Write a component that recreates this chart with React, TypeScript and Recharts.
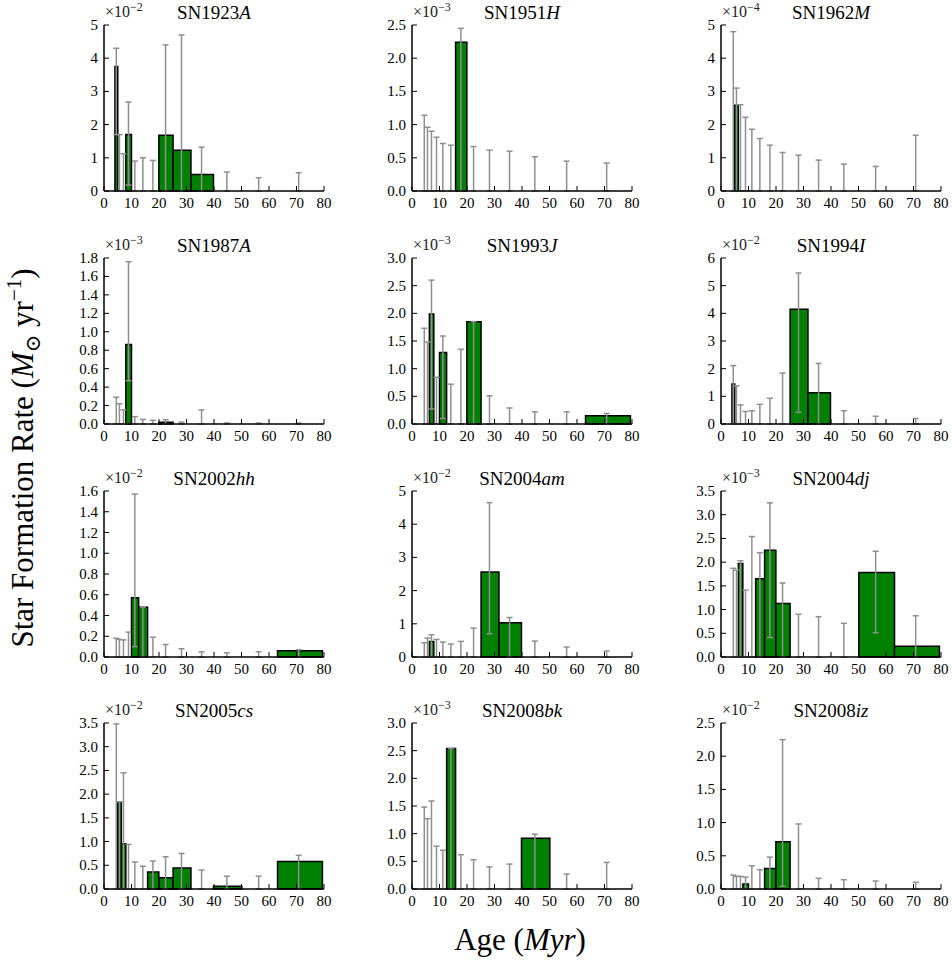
import React from 'react';
import { ComposedChart, XAxis, YAxis, Scatter, ErrorBar, ReferenceArea } from 'recharts';

// age bins (Myr), 0.1 dex wide
const binEdges = [3.98, 5.01, 6.31, 7.94, 10.0, 12.59, 15.85, 19.95, 25.12, 31.62, 39.81, 50.12, 63.1, 79.43];
const binCenters = [4.47, 5.62, 7.08, 8.91, 11.22, 14.13, 17.78, 22.39, 28.18, 35.48, 44.67, 56.23, 70.79];
const ageTicks = [0, 10, 20, 30, 40, 50, 60, 70, 80];

const snNames = ['SN1923', 'SN1951', 'SN1962', 'SN1987', 'SN1993', 'SN1994', 'SN2002', 'SN2004', 'SN2004', 'SN2005', 'SN2008', 'SN2008'];
const snSuffix = ['A', 'H', 'M', 'A', 'J', 'I', 'hh', 'am', 'dj', 'cs', 'bk', 'iz'];
const exponents = ['2', '3', '4', '3', '3', '2', '2', '2', '3', '2', '3', '2'];

const yTicks = [
  [0, 1, 2, 3, 4, 5],
  [0, 0.5, 1, 1.5, 2, 2.5],
  [0, 1, 2, 3, 4, 5],
  [0, 0.2, 0.4, 0.6, 0.8, 1.0, 1.2, 1.4, 1.6, 1.8],
  [0, 0.5, 1, 1.5, 2, 2.5, 3],
  [0, 1, 2, 3, 4, 5, 6],
  [0, 0.2, 0.4, 0.6, 0.8, 1.0, 1.2, 1.4, 1.6],
  [0, 1, 2, 3, 4, 5],
  [0, 0.5, 1, 1.5, 2, 2.5, 3, 3.5],
  [0, 0.5, 1, 1.5, 2, 2.5, 3, 3.5],
  [0, 0.5, 1, 1.5, 2, 2.5, 3],
  [0, 0.5, 1, 1.5, 2, 2.5],
];
const tickDecimals = [0, 1, 0, 1, 1, 0, 1, 0, 1, 1, 1, 1];

// SFR per bin, in units of the panel's 10^-n factor
const sfr = [
  [3.75, 0, 0, 1.7, 0, 0, 0, 1.68, 1.23, 0.5, 0, 0, 0],
  [0, 0, 0, 0, 0, 0, 2.24, 0, 0, 0, 0, 0, 0],
  [0, 2.58, 0, 0, 0, 0, 0, 0, 0, 0, 0, 0, 0],
  [0, 0, 0, 0.862, 0, 0, 0, 0.02, 0, 0, 0, 0, 0],
  [0, 0, 1.99, 0, 1.29, 0, 0, 1.85, 0, 0, 0, 0, 0.15],
  [1.45, 0, 0, 0, 0, 0, 0, 0, 4.15, 1.13, 0, 0, 0],
  [0, 0, 0, 0, 0.57, 0.48, 0, 0, 0, 0, 0, 0, 0.06],
  [0, 0, 0.47, 0, 0, 0, 0, 0, 2.56, 1.03, 0, 0, 0],
  [0, 0, 1.97, 0, 0, 1.65, 2.25, 1.13, 0, 0, 0, 1.78, 0.225],
  [0, 1.84, 0.955, 0, 0, 0, 0.36, 0.235, 0.445, 0, 0.06, 0, 0.58],
  [0, 0, 0, 0, 0, 2.54, 0, 0, 0, 0, 0.915, 0, 0],
  [0, 0, 0, 0.075, 0, 0, 0.31, 0.71, 0, 0, 0, 0, 0],
];

// lower / upper ends of the error bars
const errLow = [
  [1.7, 0, 0, 0.18, 0, 0, 0, 0, 0, 0, 0, 0, 0],
  [0, 0, 0, 0, 0, 0, 0, 0, 0, 0, 0, 0, 0],
  [0, 0, 0, 0, 0, 0, 0, 0, 0, 0, 0, 0, 0],
  [0, 0, 0, 0.47, 0, 0, 0, 0, 0, 0, 0, 0, 0],
  [0, 0, 0.27, 0, 0.1, 0, 0, 0, 0, 0, 0, 0, 0],
  [0, 0, 0, 0, 0, 0, 0, 0, 0.42, 0, 0, 0, 0],
  [0, 0, 0, 0, 0.1, 0, 0, 0, 0, 0, 0, 0, 0],
  [0, 0, 0, 0, 0, 0, 0, 0, 0.7, 0, 0, 0, 0],
  [0, 0, 0, 0, 0, 0, 0.41, 0, 0, 0, 0, 0.51, 0],
  [0, 0, 0, 0, 0, 0, 0, 0, 0, 0, 0, 0, 0],
  [0, 0, 0, 0, 0, 0, 0, 0, 0, 0, 0, 0, 0],
  [0, 0, 0, 0, 0, 0, 0, 0.04, 0, 0, 0, 0, 0],
];
const errHigh = [
  [4.3, 1.7, 1.12, 2.68, 0.9, 1.0, 0.92, 4.4, 4.7, 1.32, 0.57, 0.4, 0.55],
  [1.14, 0.96, 0.9, 0.81, 0.715, 0.69, 2.45, 0.67, 0.615, 0.6, 0.515, 0.45, 0.42],
  [4.8, 3.1, 2.6, 2.22, 1.86, 1.58, 1.38, 1.16, 1.08, 0.93, 0.81, 0.74, 1.68],
  [0.29, 0.22, 0.153, 1.76, 0.08, 0.05, 0.04, 0.047, 0.02, 0.153, 0.01, 0.01, 0.01],
  [1.73, 1.48, 2.6, 0.845, 1.59, 0.72, 1.35, 1.85, 0.51, 0.29, 0.22, 0.22, 0.19],
  [2.11, 1.38, 0.69, 0.45, 0.48, 0.71, 0.93, 1.84, 5.46, 2.19, 0.48, 0.28, 0.2],
  [0.18, 0.17, 0.165, 0.24, 1.57, 0.48, 0.19, 0.12, 0.08, 0.05, 0.04, 0.05, 0.07],
  [0.43, 0.57, 0.67, 0.53, 0.45, 0.39, 0.47, 0.87, 4.65, 1.19, 0.48, 0.3, 0.18],
  [1.87, 1.83, 2.03, 1.41, 2.54, 2.2, 3.25, 1.56, 0.9, 0.85, 0.71, 2.23, 0.87],
  [3.48, 1.84, 2.45, 0.94, 0.57, 0.48, 0.59, 0.68, 0.75, 0.4, 0.27, 0.27, 0.71],
  [1.48, 1.27, 1.59, 0.775, 0.7, 2.54, 0.62, 0.53, 0.4, 0.45, 0.99, 0.27, 0.48],
  [0.21, 0.19, 0.19, 0.18, 0.35, 0.29, 0.48, 2.25, 0.98, 0.16, 0.14, 0.12, 0.1],
];

const FONT = '"Liberation Serif", "DejaVu Serif", serif';
const colLeft = [104, 412, 721];
const rowTop = [25, 258, 491, 723];
const PLOT_W = 220;
const PLOT_H = 166;
const AXIS_W = 50;
const TOP_M = 30;
const AXIS_H = 25;

const XTick = (props: any) => {
  const { x, y, payload } = props;
  return (
    <g>
      <line x1={x} y1={y} x2={x} y2={y - 5} stroke="#000" strokeWidth={1} />
      <text x={x} y={y + 17} textAnchor="middle" fontSize={15} fontFamily={FONT} fill="#000">
        {payload.value}
      </text>
    </g>
  );
};

const YTick = (props: any) => {
  const { x, y, payload, decimals } = props;
  return (
    <g>
      <line x1={x} y1={y} x2={x + 5} y2={y} stroke="#000" strokeWidth={1} />
      <text x={x - 6} y={y + 5} textAnchor="end" fontSize={15} fontFamily={FONT} fill="#000">
        {Number(payload.value).toFixed(decimals)}
      </text>
    </g>
  );
};

const Panel = ({ idx }: { idx: number }) => {
  const ticks = yTicks[idx];
  const yMax = ticks[ticks.length - 1];
  const points = binCenters.map((c, i) => ({
    age: c,
    sfr: sfr[idx][i],
    err: [sfr[idx][i] - errLow[idx][i], errHigh[idx][i] - sfr[idx][i]],
  }));
  return (
    <div style={{ position: 'absolute', left: colLeft[idx % 3] - AXIS_W, top: rowTop[Math.floor(idx / 3)] - TOP_M }}>
      <ComposedChart
        width={AXIS_W + PLOT_W + 10}
        height={TOP_M + PLOT_H + AXIS_H}
        data={points}
        margin={{ top: TOP_M, right: 10, bottom: 0, left: 0 }}
      >
        {sfr[idx].map((v, i) =>
          v > 0 ? (
            <ReferenceArea
              key={`bar-${i}`}
              x1={binEdges[i]}
              x2={binEdges[i + 1]}
              y1={0}
              y2={v}
              fill="#008000"
              fillOpacity={1}
              stroke="#000"
              strokeWidth={1.5}
            />
          ) : null
        )}
        <Scatter dataKey="sfr" isAnimationActive={false} shape={() => <g />}>
          <ErrorBar dataKey="err" direction="y" width={3} stroke="#8f8f8f" strokeWidth={1.5} isAnimationActive={false} />
        </Scatter>
        <XAxis
          dataKey="age"
          type="number"
          domain={[0, 80]}
          ticks={ageTicks}
          interval={0}
          allowDataOverflow
          height={AXIS_H}
          axisLine={{ stroke: '#000', strokeWidth: 1.5 }}
          tickLine={false}
          tickSize={0}
          tickMargin={0}
          tick={<XTick />}
        />
        <YAxis
          dataKey="sfr"
          type="number"
          domain={[0, yMax]}
          ticks={ticks}
          interval={0}
          allowDataOverflow
          width={AXIS_W}
          axisLine={{ stroke: '#000', strokeWidth: 1.5 }}
          tickLine={false}
          tickSize={0}
          tickMargin={0}
          tick={<YTick decimals={tickDecimals[idx]} />}
        />
      </ComposedChart>
    </div>
  );
};

export default function App() {
  return (
    <div style={{ position: 'absolute', left: 0, top: 0, width: 952, height: 968, background: '#fff', fontFamily: FONT }}>
      {snNames.map((_, i) => (
        <Panel key={i} idx={i} />
      ))}
      <svg width={952} height={968} style={{ position: 'absolute', left: 0, top: 0, pointerEvents: 'none' }}>
        {snNames.map((name, i) => {
          const cx = colLeft[i % 3];
          const ty = rowTop[Math.floor(i / 3)];
          return (
            <g key={i}>
              <text x={cx + PLOT_W / 2} y={ty - 6} textAnchor="middle" fontSize={19} fontFamily={FONT} fill="#000">
                {name}
                <tspan fontStyle="italic">{snSuffix[i]}</tspan>
              </text>
              <text x={cx + 1} y={ty - 8} fontSize={16} fontFamily={FONT} fill="#222">
                ×10
                <tspan fontSize={12} dy={-6}>
                  −{exponents[i]}
                </tspan>
              </text>
            </g>
          );
        })}
        <text x={520} y={950} textAnchor="middle" fontSize={31} fontFamily={FONT} fill="#000">
          Age (<tspan fontStyle="italic">Myr</tspan>)
        </text>
        <text x={33} y={458} textAnchor="middle" fontSize={31} fontFamily={FONT} fill="#000" transform="rotate(-90 33 458)">
          Star Formation Rate (<tspan fontStyle="italic">M</tspan>
          <tspan fontSize={21} dy={7}>⊙</tspan>
          <tspan dy={-7}> yr</tspan>
          <tspan fontSize={21} dy={-12}>−1</tspan>
          <tspan dy={12}>)</tspan>
        </text>
      </svg>
    </div>
  );
}
